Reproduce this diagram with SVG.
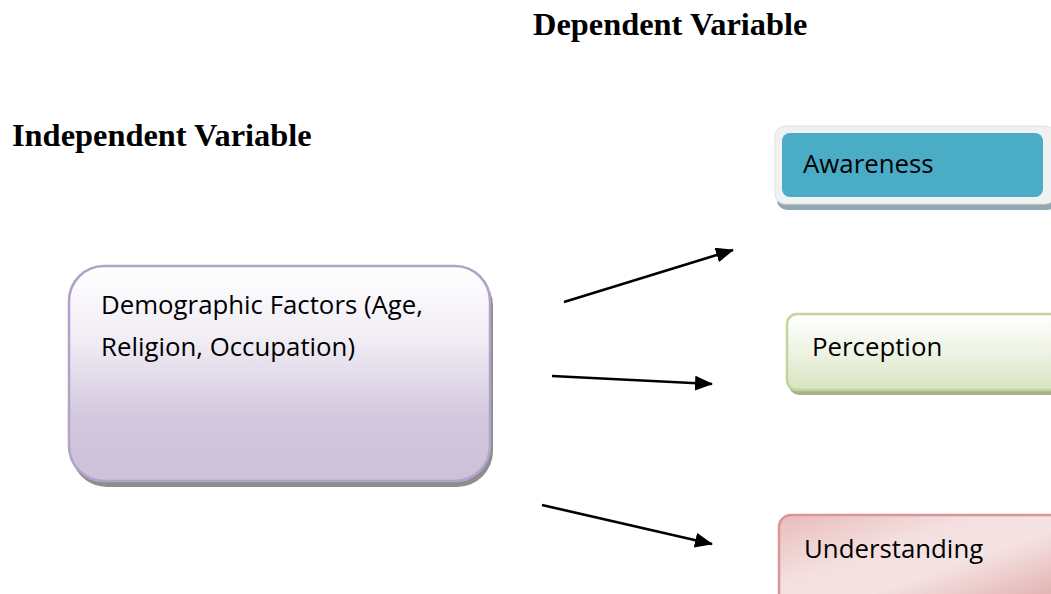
<svg xmlns="http://www.w3.org/2000/svg" width="1051" height="594" viewBox="0 0 1051 594">
  <style>
    .title { font-family: "Liberation Serif", "Times New Roman", serif; font-weight: bold; font-size: 32.4px; fill: #000; }
    .label { font-family: "Open Sans", "Liberation Sans", sans-serif; font-size: 25.8px; fill: #000; }
    .conn { stroke: #000; stroke-width: 2.6; fill: none; marker-end: url(#arrow); }
  </style>
  <defs>
    <marker id="arrow" markerUnits="userSpaceOnUse" markerWidth="19" markerHeight="15" refX="17" refY="7.5" orient="auto">
      <path d="M0,0 L18,7.5 L0,15 Z" fill="#000"/>
    </marker>
    <linearGradient id="gDemo" x1="0" y1="0" x2="0" y2="1">
      <stop offset="0" stop-color="#ffffff"/>
      <stop offset="0.35" stop-color="#f0ecf4"/>
      <stop offset="0.7" stop-color="#d3c8df"/>
      <stop offset="1" stop-color="#cdc0da"/>
    </linearGradient>
    <linearGradient id="gPerc" x1="0" y1="0" x2="0" y2="1">
      <stop offset="0" stop-color="#ffffff"/>
      <stop offset="0.5" stop-color="#eef3e4"/>
      <stop offset="1" stop-color="#d8e4bf"/>
    </linearGradient>
    <linearGradient id="gUnd" x1="0" y1="0" x2="1" y2="1">
      <stop offset="0" stop-color="#e8bcbc"/>
      <stop offset="0.35" stop-color="#f4e0e0"/>
      <stop offset="0.55" stop-color="#f5e2e2"/>
      <stop offset="1" stop-color="#dba0a0"/>
    </linearGradient>
  </defs>

  <text class="title" x="533" y="35">Dependent Variable</text>
  <text class="title" x="12" y="146">Independent Variable</text>

  <g id="demographic">
    <rect x="71" y="270" width="422" height="217" rx="36" fill="#8e8e8e"/>
    <rect x="69" y="266" width="421" height="215" rx="35" fill="url(#gDemo)" stroke="#b3a2c8" stroke-width="2.5"/>
    <text class="label" x="101" y="314">Demographic Factors (Age,</text>
    <text class="label" x="101" y="356">Religion, Occupation)</text>
  </g>

  <g id="awareness">
    <rect x="777" y="130" width="280" height="80" rx="10" fill="#93a8b3"/>
    <rect x="775" y="126" width="280" height="78" rx="10" fill="#f1f1f1" stroke="#e2e2e2" stroke-width="1"/>
    <rect x="782" y="133" width="261" height="64" rx="8" fill="#4bacc6"/>
    <text class="label" x="803" y="173">Awareness</text>
  </g>

  <g id="perception">
    <rect x="789" y="318" width="280" height="77" rx="10" fill="#a3b38d"/>
    <rect x="787" y="314" width="280" height="76" rx="10" fill="url(#gPerc)" stroke="#c2d59b" stroke-width="2.5"/>
    <text class="label" x="812" y="356">Perception</text>
  </g>

  <g id="understanding">
    <rect x="779" y="515" width="290" height="100" rx="12" fill="url(#gUnd)" stroke="#d99694" stroke-width="2.5"/>
    <text class="label" x="804" y="558">Understanding</text>
  </g>

  <g id="connectors">
    <line class="conn" x1="564" y1="302" x2="733" y2="250"/>
    <line class="conn" x1="552" y1="376" x2="712" y2="384"/>
    <line class="conn" x1="542" y1="505" x2="712" y2="544"/>
  </g>
</svg>
